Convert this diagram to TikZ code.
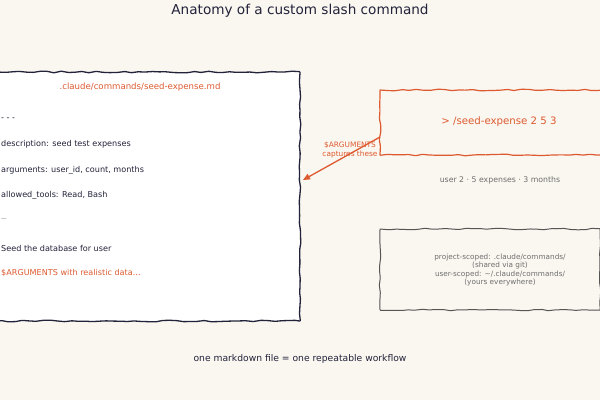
\documentclass[tikz,border=0pt]{standalone}
\usepackage{fontspec}
\setmainfont{DejaVu Sans}
\usetikzlibrary{decorations.pathmorphing,arrows.meta}
\definecolor{bg}{HTML}{FAF7F0}
\definecolor{ink}{HTML}{22223A}
\definecolor{accent}{HTML}{DD5A30}
\definecolor{muted}{HTML}{6E6E6E}
\definecolor{boxgray}{HTML}{555555}
\tikzset{
  x=1pt,y=-1pt,
  sketch/.style={decorate,decoration={random steps,segment length=7pt,amplitude=0.8pt},rounded corners=0.6pt},
  filebox/.style={sketch,draw=ink,line width=1.3pt,fill=white},
  cmdbox/.style={sketch,draw=accent,line width=1.2pt},
  scopebox/.style={sketch,draw=boxgray,line width=1pt},
  mdline/.style={anchor=west,font=\fontsize{8.1}{9}\selectfont,text=ink,inner sep=0pt},
  lbl/.style={align=center,inner sep=0pt},
  conn/.style={draw=accent,line width=1.3pt,-{Triangle[length=7pt,width=6pt]}}
}
\begin{document}
\begin{tikzpicture}
\pgfmathsetseed{7}
\fill[bg] (0,0) rectangle (600,400);
\useasboundingbox (0,0) rectangle (600,400);
\node[lbl,text=ink,font=\fontsize{13.6}{16}\selectfont] (title) at (300,11) {Anatomy of a custom slash command};
% file box
\draw[filebox] (-6,72) rectangle (300,321);
\coordinate (fileE) at (303,180);
\node[lbl,text=accent,font=\fontsize{8.6}{10}\selectfont] (fname) at (140,87) {.claude/commands/seed-expense.md};
\node[mdline] (l1) at (1,119) {- - -};
\node[mdline] (l2) at (1,144) {description: seed test expenses};
\node[mdline] (l3) at (1,170) {arguments: user\_id, count, months};
\node[mdline] (l4) at (1,195) {allowed\_tools: Read, Bash};
\node[mdline,text=muted,font=\fontsize{5.5}{6}\selectfont] (l5) at (1,220) {---};
\node[mdline] (l6) at (1,248) {Seed the database for user};
\node[mdline,text=accent] (l7) at (1,273) {\$ARGUMENTS with realistic data...};
% command box
\draw[cmdbox] (380,90) rectangle (606,155);
\coordinate (cmdW) at (380,137);
\node[lbl,text=accent,font=\fontsize{10.2}{12}\selectfont] (cmd) at (499,122) {> /seed-expense 2 5 3};
\node[lbl,text=muted,font=\fontsize{7.8}{9}\selectfont] (parse) at (500,180) {user 2 · 5 expenses · 3 months};
% scope box
\draw[scopebox] (380,229) rectangle (600,310);
\node[lbl,text=muted,font=\fontsize{7.3}{8.5}\selectfont] (scope) at (500,270) {project-scoped: .claude/commands/\\(shared via git)\\user-scoped: \textasciitilde/.claude/commands/\\(yours everywhere)};
% connector
\draw[conn] (cmdW) -- (fileE);
\node[lbl,text=accent,font=\fontsize{7.4}{8.2}\selectfont] (capt) at (350,150) {\$ARGUMENTS\\captures these};
\node[lbl,text=ink,font=\fontsize{9.2}{11}\selectfont] (foot) at (300,359) {one markdown file = one repeatable workflow};
\end{tikzpicture}
\end{document}
